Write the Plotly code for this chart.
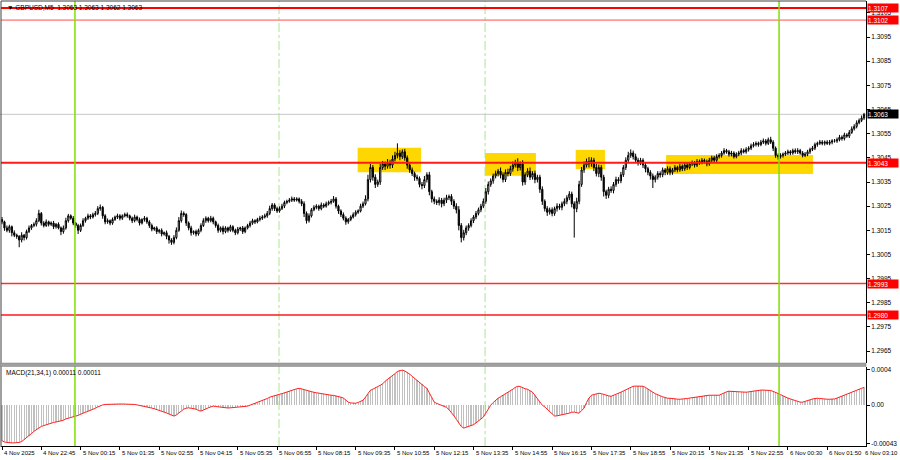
import plotly.graph_objects as go

# ---------------- data ----------------
BASE_PRICE = 1.3000
PIP = 0.0001
FIRST_OPEN_PIPS = 19.5

# closes, in pips above 1.3000 (one value per M5 bar)
CLOSE_PIPS = [
    18.5, 16, 15, 16.5, 14, 13, 12.5, 11, 13, 12, 14.5, 16, 17, 17.5, 19, 22,
    18, 17, 18.5, 17.5, 18, 16.5, 17.5, 16, 14.5, 16, 19, 21, 20, 18, 17, 15,
    17, 19, 20, 21, 20.5, 21.5, 22, 24, 24.5, 21, 18.5, 19, 18, 19.5, 20.5, 21,
    20, 21, 21.5, 21, 20, 19, 20.5, 19.5, 18, 19.5, 20, 18.5, 17, 15.5, 16, 14.5,
    15, 13.5, 14, 12.5, 11, 10, 12, 15, 19, 22, 21.5, 18, 16, 14, 14.5, 13.5,
    15, 17, 19, 20, 19, 20, 18.5, 17, 15, 16, 14.5, 16, 15, 16.5, 15, 14,
    15.5, 16, 14.5, 16, 17, 18, 19, 18.5, 19.5, 20, 20.5, 21, 22, 24, 25.5, 24,
    23, 24, 25, 26.5, 27, 27.5, 28, 27.5, 28, 27, 26, 22, 19, 21, 23.5, 24.5,
    25, 24, 25.5, 25, 26, 26.5, 27, 28, 25, 23, 21.5, 20, 18.5, 19.5, 20.5, 21.5,
    22.5, 23, 25, 26, 28, 36, 41, 37, 34, 35, 41, 42.5, 41.5, 43, 42, 44.5,
    46, 47, 45.5, 47.5, 45, 42, 40, 38.5, 37, 36.5, 34, 33.5, 36, 38, 31, 28,
    27, 26.5, 27.5, 26, 27.5, 28.5, 29, 27, 25, 23.5, 17, 12, 14, 16, 17, 19,
    20.5, 22, 23.5, 25, 27, 31, 34, 35.5, 37.5, 38.5, 39.5, 38, 36, 39, 38.5, 40.5,
    42, 43, 41, 42.5, 35, 38, 39.5, 37, 38.5, 36, 37, 32, 27, 24, 22.5, 23.5,
    22, 24, 25, 24.5, 26, 27, 28.5, 30, 26, 24, 27, 34, 40, 42, 43.5, 42.5,
    44, 41, 38.5, 41, 37, 31, 29.5, 32, 31.5, 34, 36, 35.5, 38, 41, 44, 46,
    47, 45.5, 44, 43, 44, 42, 40.5, 39, 37.5, 36, 37, 38.5, 38, 40, 39, 40.5,
    39, 40, 41, 40, 41.5, 40.5, 42, 41, 42.5, 43, 42, 43.5, 43, 44, 43.5, 42.5,
    44, 45, 44, 45.5, 46, 47, 48, 47.5, 46.5, 47, 45.5, 46.5, 47, 48, 47.5, 48.5,
    49, 50, 50.5, 51, 50.5, 51.5, 52, 51, 52.5, 51.5, 49, 46, 45.5, 46, 46.5, 47,
    47.5, 47, 48, 47.5, 48, 47, 46, 46.5, 47.5, 48.5, 49, 50.5, 51, 51.5, 51, 51.5,
    51, 51.5, 52, 52, 52.5, 53.5, 53, 54.5, 54, 55.5, 57, 58, 59.5, 60.5, 61.5, 63,
]

# upper wick above the body, pips
WICK_UP_PIPS = [
    1, 0.5, 1, 0.8, 0.5, 1, 0.6, 0.5, 1.2, 0.5, 0.8, 1, 0.6, 0.8, 1, 1.5,
    0.6, 0.8, 1, 0.5, 0.7, 0.9, 0.5, 0.8, 0.6, 1, 1.2, 0.8, 0.6, 0.9, 0.5, 0.7,
    0.8, 1, 0.6, 0.9, 0.7, 0.8, 1, 1, 1.2, 0.6, 0.7, 0.9, 0.5, 0.8, 0.6, 0.9,
    0.7, 0.6, 0.8, 0.9, 0.5, 0.7, 1, 0.6, 0.8, 0.5, 0.9, 0.6, 0.7, 0.8, 0.5, 0.7,
    0.6, 0.8, 0.5, 0.9, 0.6, 0.7, 1, 1.2, 1.5, 1.2, 0.8, 0.6, 0.7, 0.9, 0.5, 0.8,
    0.7, 0.9, 1, 0.8, 0.6, 1, 0.7, 0.5, 0.8, 0.6, 0.9, 0.7, 0.5, 0.8, 0.6, 0.7,
    0.9, 0.5, 0.8, 0.6, 0.7, 0.9, 0.8, 0.6, 0.7, 1, 0.8, 0.9, 1, 1.2, 0.8, 0.7,
    0.8, 0.9, 1, 0.8, 0.7, 0.9, 1, 0.8, 0.7, 0.6, 0.9, 1, 0.8, 1, 0.7, 0.9,
    0.8, 0.6, 1, 0.7, 0.9, 0.8, 1, 1.2, 0.8, 0.6, 0.7, 0.9, 0.8, 0.6, 0.7, 0.9,
    0.8, 0.7, 1, 0.9, 1.5, 2, 1.5, 1, 1.2, 1, 1.5, 1.2, 1, 1.5, 1.2, 1.5,
    1.5, 4, 1.2, 1, 1.2, 1, 0.8, 1, 0.8, 1, 0.8, 1, 1.5, 1, 1.2, 0.8,
    1, 0.8, 1.2, 0.9, 1, 1.2, 0.8, 1, 0.9, 1.2, 1.5, 1, 1.2, 1, 0.9, 1,
    0.8, 1, 0.9, 1, 1.2, 1.5, 1.2, 1, 1, 1.2, 0.9, 1.5, 1, 1.2, 1.5, 1.2,
    1.5, 1.2, 1.8, 1, 1.5, 1, 1.2, 1.5, 1, 1.2, 1, 1, 1.2, 0.8, 1, 0.9,
    1, 0.8, 1.2, 1, 0.9, 1.2, 1, 1.2, 1, 1, 1.5, 1.5, 1.2, 1.5, 1.2, 1.8,
    1.2, 1, 1.5, 1.2, 1, 1, 0.8, 1, 1.2, 1, 1.2, 1, 1.2, 1, 1.2, 1.5,
    1.5, 1, 1.2, 1, 1, 0.8, 1, 0.8, 0.9, 1, 0.8, 1, 0.9, 1, 0.8, 1,
    0.9, 0.8, 1, 0.7, 1, 0.8, 0.9, 1, 0.8, 0.9, 0.7, 1, 0.8, 0.9, 0.7, 0.8,
    1, 0.9, 0.8, 1, 0.9, 0.8, 1, 0.7, 0.8, 0.9, 0.7, 0.8, 0.9, 1, 0.8, 0.9,
    0.8, 0.9, 1, 0.8, 0.7, 0.9, 1, 0.8, 0.9, 1.2, 0.8, 0.7, 0.8, 0.9, 0.7, 0.8,
    0.9, 0.7, 0.8, 0.9, 1, 0.7, 0.8, 0.9, 0.8, 0.7, 0.9, 0.8, 0.7, 0.9, 0.8, 0.7,
    0.8, 0.9, 0.7, 0.8, 0.9, 1, 0.8, 0.9, 0.7, 1, 1, 0.9, 1, 0.8, 1, 0.6,
]

# lower wick below the body, pips
WICK_DN_PIPS = [
    1, 1.2, 0.8, 1, 1.5, 0.8, 1, 3, 1, 1.2, 0.8, 0.6, 0.8, 0.7, 0.9, 0.6,
    1, 0.8, 0.6, 0.9, 0.7, 1, 0.8, 0.6, 1.5, 0.9, 0.7, 0.8, 0.6, 0.9, 1, 1.5,
    0.7, 0.6, 0.8, 0.7, 0.9, 0.6, 0.8, 0.7, 0.9, 1.2, 1, 0.8, 0.9, 0.7, 0.6, 0.8,
    0.9, 0.7, 0.6, 0.8, 0.9, 1, 0.7, 0.8, 1, 0.6, 0.9, 0.8, 1, 0.9, 0.7, 1,
    0.8, 1, 0.7, 1.2, 1.5, 1, 0.8, 0.7, 0.6, 0.8, 0.9, 1.2, 1, 1.2, 0.8, 1,
    0.7, 0.8, 0.6, 0.9, 0.8, 0.7, 1, 0.9, 1, 0.8, 1.2, 0.7, 0.9, 0.6, 0.8, 1,
    0.7, 0.8, 1, 0.7, 0.6, 0.8, 0.7, 0.9, 0.6, 0.8, 0.7, 0.6, 0.8, 0.7, 0.9, 1,
    0.8, 0.7, 0.6, 0.8, 0.7, 0.6, 0.8, 0.7, 0.6, 0.9, 1, 1.5, 1.2, 0.8, 0.7, 0.6,
    0.8, 0.9, 0.7, 0.8, 0.6, 0.7, 0.8, 0.6, 1, 1.2, 1, 0.9, 1.2, 0.8, 0.7, 0.6,
    0.8, 0.7, 0.6, 0.8, 0.7, 1, 1.2, 1.5, 1.5, 1, 1.2, 1, 1.5, 1, 1.5, 1.2,
    1, 1.2, 1.5, 1, 1.2, 1.5, 1.2, 1, 1.5, 1, 1.2, 1.5, 1, 1.2, 1.5, 1.5,
    1.2, 1, 1.2, 1.5, 1, 1.2, 1, 1.5, 1.2, 1.5, 2, 2, 1.2, 1, 1.2, 0.8,
    1, 0.9, 0.8, 1, 0.8, 1, 1.2, 1, 1.2, 1, 1.2, 1.5, 1.2, 1, 1.2, 1,
    1.2, 1, 1.5, 1.2, 1.5, 1.2, 1, 1.2, 1, 1.5, 1.2, 1.5, 1.5, 1.2, 1.5, 1,
    1.2, 1, 1.2, 1, 1.2, 1, 1.2, 1, 1.5, 12, 1.5, 1.2, 1, 1.2, 1, 1.5,
    1.2, 1.5, 1.2, 1.5, 1.5, 2, 1.5, 1.2, 1, 1.2, 1, 1.2, 1, 0.9, 1, 1.2,
    1, 1.2, 1, 1.2, 1, 1.2, 1.5, 1.2, 1.5, 3.5, 1.2, 1, 1.2, 1, 1.2, 1,
    1.2, 1, 0.9, 1, 0.8, 1, 0.9, 1, 0.8, 0.9, 1, 0.8, 0.9, 0.7, 0.8, 1,
    0.8, 0.9, 1, 0.7, 0.8, 0.9, 0.7, 0.8, 1, 0.9, 0.8, 0.7, 0.8, 0.9, 0.7, 0.8,
    0.9, 0.8, 0.7, 0.8, 0.9, 0.7, 0.8, 0.9, 0.7, 0.8, 1.2, 1, 1.2, 0.8, 0.9, 0.7,
    0.8, 0.9, 0.7, 0.8, 0.9, 0.7, 0.8, 0.7, 0.8, 0.9, 0.7, 0.8, 0.9, 0.7, 0.8, 0.9,
    0.7, 0.8, 0.9, 0.7, 0.8, 0.7, 0.9, 0.8, 0.7, 0.8, 0.6, 0.7, 0.8, 0.6, 0.7, 0.8,
]

# MACD(21,34,1) main value per bar, in units of 1e-5
MACD_E5 = [
    -40, -41.5, -42, -42.5, -42.5, -42.5, -42.5, -42, -41, -39, -37, -35, -32, -29.5, -27.5, -25.5,
    -24, -23, -22, -21, -20, -19.5, -19, -18.5, -18, -17, -15.5, -14.5, -13.5, -13, -12.3, -11.5,
    -10, -9, -8, -7, -6, -4.5, -3.5, -2, -0.5, 0.3, 0.8, 1, 1.1, 1.2, 1.3, 1.3,
    1.3, 1.3, 1.3, 1.3, 1.2, 1, 0.8, 0.3, -0.2, -0.6, -1.1, -1.8, -2.5, -3.3, -4, -4.8,
    -5.6, -6.5, -7.5, -8.8, -10, -11.5, -12.3, -11, -8.5, -6, -4.5, -3.4, -3, -3.5, -4, -4.5,
    -6, -6.7, -5.5, -4, -3, -2, -1.1, -1.5, -2, -2.5, -3, -3.4, -3.2, -3, -2.8, -2.5,
    -2.2, -2, -1.8, -1.5, -1.1, 0, 1, 2, 3, 4.5, 5.5, 6.5, 7.5, 9, 10, 11,
    11.8, 12.3, 13, 14, 15, 15.7, 16.5, 17.5, 18.5, 19, 18.5, 17.5, 16.8, 16, 15, 14.5,
    14, 13.4, 13, 12.5, 12, 11.5, 11.2, 11, 10.5, 10, 9, 8, 5.5, 3.4, 2.5, 2.2,
    2.2, 3, 4.5, 5.6, 9, 13, 16.8, 18, 20, 21, 22.4, 24, 27, 29, 31.4, 33,
    35.5, 38, 39.2, 39.5, 38.5, 37, 35, 32.5, 30, 28, 26, 23.5, 21, 19, 14, 8,
    3.4, 2, 1, 0, -1.1, -2.5, -5, -8, -12, -16, -20, -24, -25.8, -25, -24, -23,
    -22, -20, -18, -15.5, -13.4, -9, -4, 0, 3, 6, 7.8, 9.5, 11, 12.5, 14.6, 16,
    18, 20, 21.3, 21, 19.5, 18.5, 17.9, 16.5, 14.6, 11, 7, 3.4, 0, -2, -4.5, -7,
    -10, -12.3, -12, -11.5, -11, -10.5, -10, -9, -8, -7.8, -8.5, -9, -6, -3.4, 3, 8,
    11.2, 12, 12.8, 13.4, 13, 12, 11, 10.5, 10, 11, 12, 13.5, 14.6, 16, 17.5, 19,
    20.5, 21.3, 21.5, 21.5, 21.3, 21.3, 20, 18.5, 16.5, 14.6, 13, 11.5, 10.5, 9.5, 8.5, 7.8,
    7.8, 7.3, 7, 6.8, 6.7, 6.7, 7, 7.5, 8, 8.5, 9, 9.5, 10, 10.5, 11, 11.2,
    11.2, 11.2, 11, 11, 11.2, 12.5, 14, 15, 15.7, 15.5, 15, 14.8, 14.6, 14.5, 14.6, 14.6,
    15, 15.5, 16, 16.5, 16.8, 17, 17, 16.8, 16.8, 16.5, 15.5, 14.5, 13.4, 12, 10.5, 9,
    8, 7, 6, 5, 4, 3.4, 3.4, 4, 5, 6, 7, 7.8, 7.8, 7.5, 7, 6.8,
    6.7, 6.7, 6.7, 7, 8, 9, 10, 11, 12.3, 13.5, 14.5, 15.5, 16.5, 17.9, 19, 20,
]

TIME_LABELS = [
    "4 Nov 2025", "4 Nov 22:45", "5 Nov 00:15", "5 Nov 01:35", "5 Nov 02:55",
    "5 Nov 04:15", "5 Nov 05:35", "5 Nov 06:55", "5 Nov 08:15", "5 Nov 09:35",
    "5 Nov 10:55", "5 Nov 12:15", "5 Nov 13:35", "5 Nov 14:55", "5 Nov 16:15",
    "5 Nov 17:35", "5 Nov 18:55", "5 Nov 20:15", "5 Nov 21:35", "5 Nov 22:55",
    "6 Nov 00:30", "6 Nov 01:50", "6 Nov 03:10",
]
LABEL_EVERY = 16

PRICE_TICKS = [1.3105, 1.3095, 1.3085, 1.3075, 1.3065, 1.3055, 1.3045, 1.3035,
               1.3025, 1.3015, 1.3005, 1.2995, 1.2985, 1.2975, 1.2965]
MACD_TICKS = [0.0004, 0.0, -0.00043]
MACD_TICK_TEXT = ["0.0004", "0.00", "-0.00043"]

LEVELS = [1.3107, 1.3102, 1.3043, 1.2993, 1.2980]
CURRENT_PRICE = 1.3063

# zones: (first bar, last bar, top pips, bottom pips)
ZONES = [(144.8, 170.6, 49.2, 39.0), (196.7, 217.4, 47.0, 37.6),
         (233.6, 245.5, 48.3, 40.3), (270.4, 330.2, 46.2, 38.3)]
SOLID_VLINES = [29.7, 316.4]
DASH_VLINES = [112.8, 196.7]

TITLE = "▼ GBPUSD,M5  1.3063 1.3063 1.3062 1.3063"
MACD_TITLE = "MACD(21,34,1) 0.00011 0.00011"

# ---------------- build ----------------
n = len(CLOSE_PIPS)
idx = list(range(n))
opens_p = [FIRST_OPEN_PIPS] + CLOSE_PIPS[:-1]
o = [BASE_PRICE + v * PIP for v in opens_p]
c = [BASE_PRICE + v * PIP for v in CLOSE_PIPS]
h = [BASE_PRICE + (max(a, b) + u) * PIP for a, b, u in zip(opens_p, CLOSE_PIPS, WICK_UP_PIPS)]
l = [BASE_PRICE + (min(a, b) - d) * PIP for a, b, d in zip(opens_p, CLOSE_PIPS, WICK_DN_PIPS)]
macd = [v * 1e-5 for v in MACD_E5]

W, H = 900, 460
FONT = "Liberation Sans, Arial, sans-serif"
FS = 6.5
FS_TIME = 6


def py(px):
    return 1 - px / H


X_RIGHT = 866 / W
fig = go.Figure()

fig.add_trace(go.Candlestick(
    x=idx, open=o, high=h, low=l, close=c,
    increasing=dict(line=dict(color="black", width=1), fillcolor="white"),
    decreasing=dict(line=dict(color="black", width=1), fillcolor="black"),
    whiskerwidth=0, xaxis="x", yaxis="y", showlegend=False, hoverinfo="skip",
))

fig.add_trace(go.Bar(
    x=idx, y=macd, marker=dict(color="#C0C0C0", line=dict(width=0)),
    width=0.5, xaxis="x2", yaxis="y2", showlegend=False, hoverinfo="skip",
))
fig.add_trace(go.Scatter(
    x=idx, y=macd, mode="lines", line=dict(color="#FF2020", width=1),
    xaxis="x2", yaxis="y2", showlegend=False, hoverinfo="skip",
))

xr = [-0.41, 351.8]
fig.update_layout(
    width=W, height=H, margin=dict(l=0, r=0, t=0, b=0, autoexpand=False),
    paper_bgcolor="white", plot_bgcolor="white",
    font=dict(family=FONT, size=FS, color="black"),
    bargap=0, hovermode=False,
    xaxis=dict(domain=[1 / W, X_RIGHT], range=xr, anchor="y",
               showticklabels=False, showgrid=False, zeroline=False,
               rangeslider=dict(visible=False), fixedrange=True),
    xaxis2=dict(domain=[1 / W, X_RIGHT], range=xr, anchor="y2",
                showticklabels=False, showgrid=False, zeroline=False,
                tickvals=[k * LABEL_EVERY for k in range(len(TIME_LABELS))],
                ticks="outside", ticklen=3, tickcolor="black",
                showline=True, linecolor="black", linewidth=1),
    yaxis=dict(domain=[py(363), py(1)], range=[1.29601, 1.31099], side="right",
               anchor="x", tickvals=PRICE_TICKS,
               ticktext=[f"{v:.4f}" for v in PRICE_TICKS],
               ticks="outside", ticklen=3, tickcolor="black",
               showgrid=False, zeroline=False, showline=True,
               linecolor="black", linewidth=1,
               tickfont=dict(family=FONT, size=FS, color="black")),
    yaxis2=dict(domain=[py(446), py(367)], range=[-0.00046, 0.00043], side="right",
                anchor="x2", tickvals=MACD_TICKS, ticktext=MACD_TICK_TEXT,
                ticks="outside", ticklen=3, tickcolor="black",
                showgrid=False, zeroline=False, showline=True,
                linecolor="black", linewidth=1,
                tickfont=dict(family=FONT, size=FS, color="black")),
)

shapes = []
for x0, x1, top, bot in ZONES:
    shapes.append(dict(type="rect", xref="x", yref="y", x0=x0, x1=x1,
                       y0=BASE_PRICE + bot * PIP, y1=BASE_PRICE + top * PIP,
                       fillcolor="#FFD700", line=dict(width=0), layer="below"))
shapes.append(dict(type="line", xref="paper", yref="y", x0=0, x1=X_RIGHT,
                   y0=CURRENT_PRICE, y1=CURRENT_PRICE,
                   line=dict(color="#C8C8C8", width=1), layer="below"))
level_widths = [2, 1, 2, 1.5, 1.5]
level_colors = ["#FF0000", "#FF5050", "#FF1A1A", "#FF3030", "#FF1A1A"]
for lv, lw, lc in zip(LEVELS, level_widths, level_colors):
    shapes.append(dict(type="line", xref="paper", yref="y", x0=1 / W, x1=X_RIGHT,
                       y0=lv, y1=lv, line=dict(color=lc, width=lw), layer="above"))
for xv in SOLID_VLINES:
    shapes.append(dict(type="line", xref="x", yref="paper", x0=xv, x1=xv,
                       y0=py(446), y1=py(1), line=dict(color="#7FE000", width=1.5),
                       layer="above"))
for xv in DASH_VLINES:
    shapes.append(dict(type="line", xref="x", yref="paper", x0=xv, x1=xv,
                       y0=py(446), y1=py(1),
                       line=dict(color="#A8E88A", width=1, dash="dashdot"),
                       layer="below"))
shapes.append(dict(type="line", xref="paper", yref="paper", x0=1 / W, x1=1 / W,
                   y0=py(447), y1=py(1), line=dict(color="#404040", width=1)))
shapes.append(dict(type="line", xref="paper", yref="paper", x0=1 / W, x1=X_RIGHT,
                   y0=py(1), y1=py(1), line=dict(color="#404040", width=1)))
shapes.append(dict(type="rect", xref="paper", yref="paper", x0=0, x1=X_RIGHT,
                   y0=py(366.5), y1=py(363), fillcolor="#A0A0A0",
                   line=dict(color="#808080", width=0.5)))
fig.update_layout(shapes=shapes)

ann = []
ann.append(dict(xref="paper", yref="paper", x=5 / W, y=py(1.5), xanchor="left",
                yanchor="top", text=TITLE, showarrow=False,
                font=dict(family=FONT, size=FS, color="black")))
ann.append(dict(xref="paper", yref="paper", x=4 / W, y=py(367), xanchor="left",
                yanchor="top", text=MACD_TITLE, showarrow=False,
                font=dict(family=FONT, size=FS, color="black")))
for k, t in enumerate(TIME_LABELS):
    if k * LABEL_EVERY <= xr[1]:
        ann.append(dict(xref="x2", yref="paper", x=k * LABEL_EVERY, y=py(447.5),
                        xanchor="left", yanchor="top", text=t, showarrow=False,
                        font=dict(family=FONT, size=FS_TIME, color="black")))
    else:
        # label of the bar just past the right edge: keep it inside the window
        ann.append(dict(xref="paper", yref="paper", x=899.5 / W, y=py(447.5),
                        xanchor="right", yanchor="top", text=t, showarrow=False,
                        font=dict(family=FONT, size=FS_TIME, color="black")))
for lv in LEVELS:
    ann.append(dict(xref="paper", yref="y", x=866.5 / W, y=lv, xanchor="left",
                    yanchor="middle", text=f"{lv:.4f}", showarrow=False,
                    bgcolor="#FF0000", font=dict(family=FONT, size=FS, color="white"),
                    borderpad=0, width=30, height=8, align="left"))
ann.append(dict(xref="paper", yref="y", x=866.5 / W, y=CURRENT_PRICE, xanchor="left",
                yanchor="middle", text=f"{CURRENT_PRICE:.4f}", showarrow=False,
                bgcolor="#000000", font=dict(family=FONT, size=FS, color="white"),
                borderpad=0, width=30, height=8, align="left"))
fig.update_layout(annotations=ann)

fig.write_html("out.html", config={"displayModeBar": False, "staticPlot": True},
               post_script="document.body.style.margin='0';document.body.style.overflow='hidden';")
